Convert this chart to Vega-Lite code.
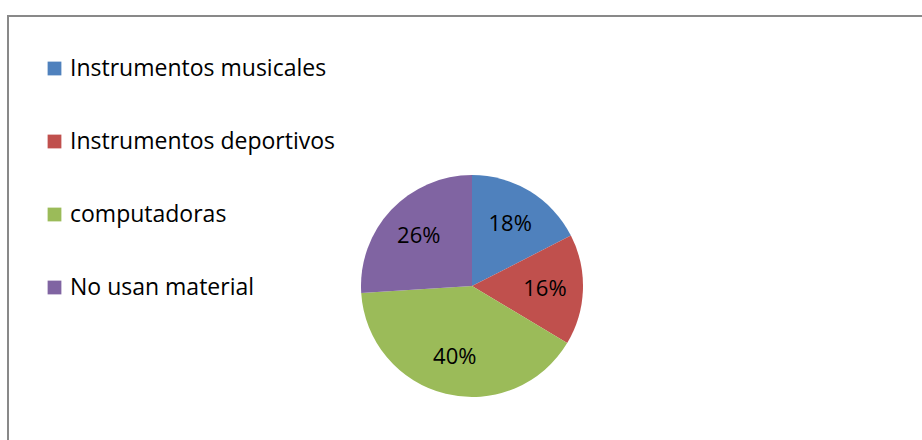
{
  "$schema": "https://vega.github.io/schema/vega-lite/v6.json",
  "width": 928,
  "height": 540,
  "autosize": {"type": "none"},
  "padding": {"left": 8, "top": 16, "right": -14, "bottom": -116},
  "background": "white",
  "view": {"stroke": "#898989", "strokeWidth": 2, "fill": "white"},
  "config": {"view": {"stroke": "#898989", "strokeWidth": 2}},
  "data": {"values": [
    {"categoria": "Instrumentos musicales", "valor": 17.5, "etiqueta": "18%", "orden": 1},
    {"categoria": "Instrumentos deportivos", "valor": 16.1, "etiqueta": "16%", "orden": 2},
    {"categoria": "computadoras", "valor": 40.4, "etiqueta": "40%", "orden": 3},
    {"categoria": "No usan material", "valor": 26.0, "etiqueta": "26%", "orden": 4}
  ]},
  "encoding": {
    "theta": {"field": "valor", "type": "quantitative", "stack": true},
    "order": {"field": "orden", "type": "quantitative"}
  },
  "layer": [
    {
      "mark": {"type": "arc", "outerRadius": 111},
      "encoding": {
        "color": {
          "field": "categoria",
          "type": "nominal",
          "sort": ["Instrumentos musicales", "Instrumentos deportivos", "computadoras", "No usan material"],
          "scale": {
            "domain": ["Instrumentos musicales", "Instrumentos deportivos", "computadoras", "No usan material"],
            "range": ["#4F81BD", "#C0504D", "#9BBB59", "#8064A2"]
          },
          "legend": {
            "orient": "none",
            "legendX": 35,
            "legendY": 41,
            "title": null,
            "symbolType": "square",
            "symbolSize": 190,
            "symbolStrokeWidth": 0,
            "labelFont": "Open Sans",
            "labelFontSize": 23,
            "labelColor": "black",
            "labelOffset": 4,
            "rowPadding": 49,
            "labelLimit": 500
          }
        }
      }
    },
    {
      "mark": {"type": "text", "radius": 73, "font": "Open Sans", "fontSize": 22},
      "encoding": {
        "text": {"field": "etiqueta", "type": "nominal"},
        "color": {"value": "black"}
      }
    }
  ]
}
